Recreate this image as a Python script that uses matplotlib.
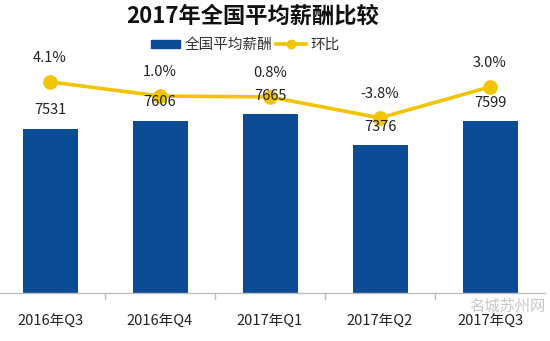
import matplotlib
matplotlib.use("Agg")
import matplotlib.pyplot as plt
from matplotlib.lines import Line2D
from matplotlib.patches import Patch

plt.rcParams['font.family'] = ['Noto Sans CJK SC', 'DejaVu Sans']

# Data
categories = ["2016年Q3", "2016年Q4", "2017年Q1", "2017年Q2", "2017年Q3"]
salary = [7531, 7606, 7665, 7376, 7599]
qoq = [4.1, 1.0, 0.8, -3.8, 3.0]
qoq_labels = ["4.1%", "1.0%", "0.8%", "-3.8%", "3.0%"]

BLUE = "#0B4A94"
YELLOW = "#F2C400"

W, H = 550, 341
fig = plt.figure(figsize=(W / 100, H / 100), dpi=100)

# plot area in pixel coordinates
left_px, right_px = -5, 545
top_px, bottom_px = 60, 293
ax = fig.add_axes([left_px / W, 1 - bottom_px / H,
                   (right_px - left_px) / W, (bottom_px - top_px) / H])

x = list(range(len(categories)))
ax.bar(x, salary, width=0.5, color=BLUE, zorder=2)
ax.set_xlim(-0.5, len(categories) - 0.5)
ax.set_ylim(6000, 8170)
ax.set_yticks([])
for s in ["top", "right", "left"]:
    ax.spines[s].set_visible(False)
ax.spines["bottom"].set_color("#BFBFBF")
ax.spines["bottom"].set_linewidth(1.0)
ax.set_xticks(x)
ax.set_xticklabels(categories, fontsize=10.5, color="#222222")
ax.tick_params(axis="x", length=0, pad=16)
# boundary tick marks between categories
for b in [i + 0.5 for i in range(len(categories) - 1)]:
    ax.plot([b, b], [0, -0.025], transform=ax.get_xaxis_transform(),
            color="#BFBFBF", lw=1.0, clip_on=False)

ax2 = ax.twinx()
ax2.set_ylim(-42.2, 8.9)
ax2.axis("off")
ax2.plot(x, qoq, color=YELLOW, lw=2.6, marker="o", markersize=9.5,
         markeredgecolor=YELLOW, zorder=3)
for xi, v, t in zip(x, qoq, qoq_labels):
    ax2.annotate(t, (xi, v), xytext=(0, 24), textcoords="offset pixels",
                 ha="center", va="center", fontsize=10.5, color="#222222",
                 zorder=5)

# salary value labels drawn above the line layer
for xi, v in zip(x, salary):
    ax2.annotate(str(v), (xi, v), xycoords=ax.transData, xytext=(0, 18.5),
                 textcoords="offset pixels", ha="center", va="center",
                 fontsize=10.5, color="#222222", zorder=5)

fig.text(253 / W, 1 - 16 / H, "2017年全国平均薪酬比较", ha="center", va="center",
         fontsize=16, fontweight="bold", color="#111111")

handles = [Patch(facecolor=BLUE, edgecolor=BLUE),
           Line2D([0], [0], color=YELLOW, lw=2.6, marker="o", markersize=6)]
fig.legend(handles, ["全国平均薪酬", "环比"], loc="center",
           bbox_to_anchor=(245 / W, 1 - 45 / H), ncol=2, frameon=False,
           fontsize=10.5, handlelength=2.0, handleheight=0.5,
           columnspacing=0.3, handletextpad=0.3, labelcolor="#333333")

fig.text(507 / W, 1 - 306 / H, "名城苏州网", ha="center", va="center",
         fontsize=11, color="#BBBBBB", style="italic", alpha=0.8)

fig.savefig("out.png", dpi=100)
